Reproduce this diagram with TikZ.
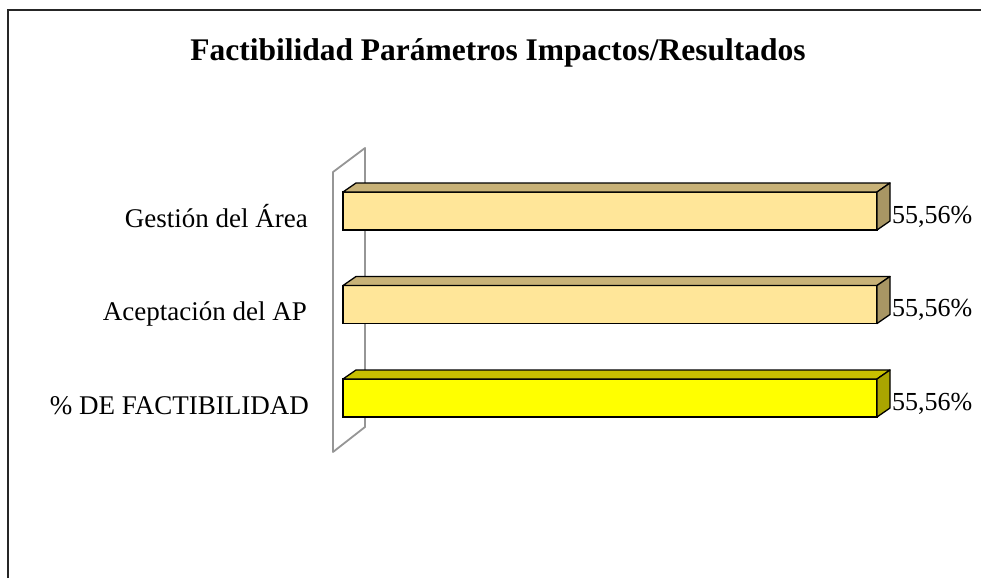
\documentclass[tikz,border=0pt]{standalone}
\usepackage{fontspec}
\setmainfont{Liberation Serif}
\usetikzlibrary{calc}
\definecolor{tanfront}{RGB}{255,230,153}
\definecolor{tantop}{RGB}{200,178,120}
\definecolor{tanside}{RGB}{168,150,100}
\definecolor{yelfront}{RGB}{255,255,0}
\definecolor{yeltop}{RGB}{200,192,0}
\definecolor{yelside}{RGB}{170,165,0}
\definecolor{wallgray}{RGB}{150,150,150}
\tikzset{
  barfront/.style={draw=black, line width=1.3pt, minimum width=534pt, minimum height=38pt, inner sep=0pt, outer sep=0pt},
  face/.style={draw=black, line width=1.3pt, line join=round},
  cat/.style={font=\fontsize{27}{32}\selectfont, anchor=base east, inner sep=0pt},
  val/.style={font=\fontsize{26}{30}\selectfont, anchor=base west, inner sep=0pt},
  wall/.style={draw=wallgray, line width=1.8pt, line join=round},
  frameline/.style={draw=black!85, line width=1.5pt}
}
\newcommand{\threedbar}[3]{%
  \filldraw[face, fill=#2] (#1.north west) -- ++(13,-9) -- ($(#1.north east)+(13,-9)$) -- (#1.north east) -- cycle;
  \filldraw[face, fill=#3] (#1.north east) -- ++(13,-9) -- ($(#1.south east)+(13,-9)$) -- (#1.south east) -- cycle;
}
\begin{document}
\begin{tikzpicture}[x=1pt,y=-1pt]
\useasboundingbox (0,0) rectangle (981,578);
\fill[white] (0,0) rectangle (981,578);
% frame
\draw[frameline] (8,578) -- (8,10) -- (981,10);
% title
\node[font=\fontsize{31.5}{38}\selectfont\bfseries, anchor=base, inner sep=0pt] (title) at (498,60) {Factibilidad Parámetros Impactos/Resultados};
% wall
\draw[wall] (333,172) -- (365,148) -- (365,427) -- (333,452) -- cycle;
% bars
\node[barfront, fill=tanfront] (g1) at (610,211) {};
\threedbar{g1}{tantop}{tanside}
\node[barfront, fill=tanfront] (g2) at (610,304.5) {};
\threedbar{g2}{tantop}{tanside}
\node[barfront, fill=yelfront] (g3) at (610,398) {};
\threedbar{g3}{yeltop}{yelside}
% category labels
\node[cat] (l1) at (308,227) {Gestión del Área};
\node[cat] (l2) at (307,320.5) {Aceptación del AP};
\node[cat] (l3) at (309,414) {\% DE FACTIBILIDAD};
% value labels
\node[val] (v1) at (892,223) {55,56\%};
\node[val] (v2) at (892,316.5) {55,56\%};
\node[val] (v3) at (892,410) {55,56\%};
\end{tikzpicture}
\end{document}
